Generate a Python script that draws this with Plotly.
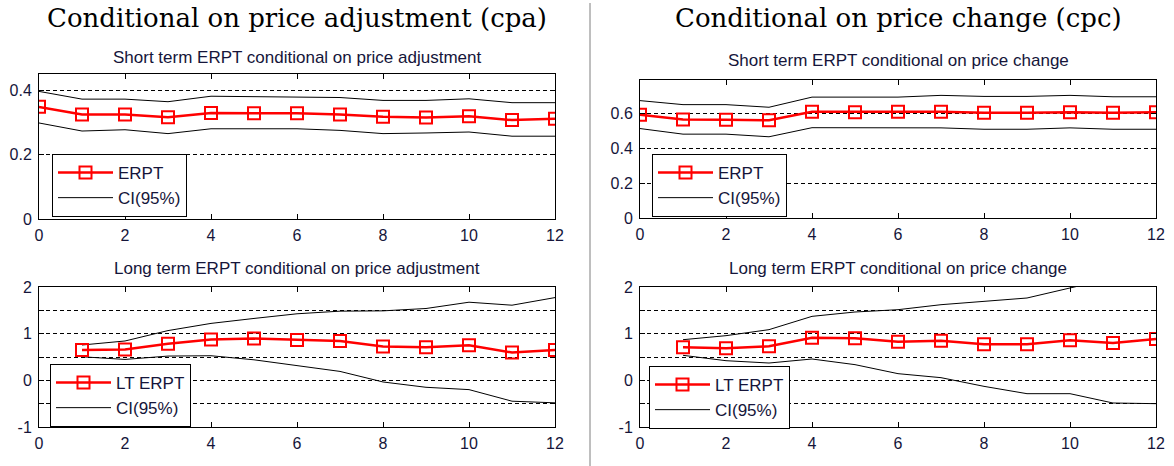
import plotly.graph_objects as go

W, H = 1174, 466

# ---------------- data ----------------
x_st = [0, 1, 2, 3, 4, 5, 6, 7, 8, 9, 10, 11, 12]
x_lt = [1, 2, 3, 4, 5, 6, 7, 8, 9, 10, 11, 12]

# Short term, conditional on price adjustment (cpa)
st_cpa_erpt = [0.348, 0.324, 0.324, 0.316, 0.329, 0.328, 0.328, 0.324, 0.317, 0.315, 0.319, 0.307, 0.311]
st_cpa_hi = [0.396, 0.372, 0.372, 0.364, 0.381, 0.380, 0.378, 0.377, 0.368, 0.368, 0.373, 0.361, 0.361]
st_cpa_lo = [0.298, 0.273, 0.277, 0.265, 0.280, 0.280, 0.280, 0.275, 0.265, 0.267, 0.270, 0.257, 0.257]

# Short term, conditional on price change (cpc)
st_cpc_erpt = [0.591, 0.564, 0.563, 0.559, 0.608, 0.606, 0.608, 0.608, 0.602, 0.602, 0.606, 0.602, 0.606]
st_cpc_hi = [0.672, 0.649, 0.649, 0.634, 0.692, 0.692, 0.692, 0.702, 0.696, 0.696, 0.702, 0.694, 0.694]
st_cpc_lo = [0.512, 0.480, 0.480, 0.465, 0.517, 0.517, 0.517, 0.516, 0.508, 0.508, 0.516, 0.508, 0.508]

# Long term, conditional on price adjustment (cpa)
lt_cpa_erpt = [0.648, 0.660, 0.782, 0.875, 0.894, 0.865, 0.844, 0.723, 0.709, 0.752, 0.596, 0.652]
lt_cpa_hi = [0.757, 0.843, 1.066, 1.220, 1.326, 1.426, 1.482, 1.489, 1.539, 1.674, 1.610, 1.773]
lt_cpa_lo = [0.505, 0.448, 0.520, 0.527, 0.440, 0.312, 0.191, -0.035, -0.149, -0.199, -0.447, -0.482]

# Long term, conditional on price change (cpc)
lt_cpc_erpt = [0.707, 0.686, 0.729, 0.914, 0.900, 0.829, 0.850, 0.771, 0.771, 0.857, 0.800, 0.886]
lt_cpc_hi = [0.871, 0.957, 1.086, 1.371, 1.464, 1.514, 1.621, 1.686, 1.764, 1.979, 2.200, 2.400]
lt_cpc_lo = [0.536, 0.421, 0.371, 0.457, 0.336, 0.143, 0.057, -0.129, -0.286, -0.286, -0.486, -0.500]

x_ticks = [0, 2, 4, 6, 8, 10, 12]
st_cpa_yticks = [0, 0.2, 0.4]
st_cpc_yticks = [0, 0.2, 0.4, 0.6]
lt_yticks = [-1, -0.5, 0, 0.5, 1, 1.5, 2]
lt_yticktext = ["-1", "", "0", "", "1", "", "2"]

main_titles = ["Conditional on price adjustment (cpa)", "Conditional on price change (cpc)"]
sub_titles = [
    "Short term ERPT conditional on price adjustment",
    "Short term ERPT conditional on price change",
    "Long term ERPT conditional on price adjustment",
    "Long term ERPT conditional on price change",
]

# ---------------- layout helpers ----------------
def fx(px):
    return px / W

def fy(py):
    return 1 - py / H

TXT = "#15153a"
FONT = "Liberation Sans"

panels = [
    # (axis suffix, legend id, x, erpt, hi, lo, name, px-left, px-right, px-top, px-bottom)
    ("", "legend", x_st, st_cpa_erpt, st_cpa_hi, st_cpa_lo, "ERPT", 39, 555, 74, 219),
    ("2", "legend2", x_st, st_cpc_erpt, st_cpc_hi, st_cpc_lo, "ERPT", 640, 1156, 80, 218),
    ("3", "legend3", x_lt, lt_cpa_erpt, lt_cpa_hi, lt_cpa_lo, "LT ERPT", 39, 555, 287, 427),
    ("4", "legend4", x_lt, lt_cpc_erpt, lt_cpc_hi, lt_cpc_lo, "LT ERPT", 640, 1156, 287, 427),
]

fig = go.Figure()

for k, (ax, lg, xs, erpt, hi, lo, nm, l, r, t, b) in enumerate(panels):
    xa = "x" + ax
    ya = "y" + ax
    fig.add_trace(go.Scatter(
        x=xs, y=hi, xaxis=xa, yaxis=ya, mode="lines", name="CI(95%)",
        line=dict(color="black", width=1), legend=lg, legendrank=2,
        legendgroup="ci%d" % k,
    ))
    fig.add_trace(go.Scatter(
        x=xs, y=lo, xaxis=xa, yaxis=ya, mode="lines", name="CI(95%)",
        line=dict(color="black", width=1), legend=lg, showlegend=False,
        legendgroup="ci%d" % k,
    ))
    fig.add_trace(go.Scatter(
        x=xs, y=erpt, xaxis=xa, yaxis=ya, mode="lines+markers", name=nm,
        line=dict(color="#ff0000", width=2.5),
        marker=dict(symbol="square-open", size=12, color="#ff0000", line=dict(width=2, color="#ff0000")),
        legend=lg, legendrank=1, legendgroup="e%d" % k,
    ))

axis_common = dict(
    showline=True, linecolor="black", linewidth=1, mirror="allticks",
    ticks="inside", ticklen=5, tickcolor="black", zeroline=False,
    tickfont=dict(family=FONT, size=16, color=TXT), automargin=False,
)

yranges = [[0, 0.45], [0, 0.79], [-1, 2], [-1, 2]]
yticks = [(st_cpa_yticks, None), (st_cpc_yticks, None), (lt_yticks, lt_yticktext), (lt_yticks, lt_yticktext)]

layout = dict(
    template="none",
    width=W, height=H, margin=dict(l=0, r=0, t=0, b=0, pad=0, autoexpand=False),
    paper_bgcolor="white", plot_bgcolor="white", showlegend=True,
    font=dict(family=FONT, color=TXT),
    hovermode=False,
)

for i, (ax, lg, xs, erpt, hi, lo, nm, l, r, t, b) in enumerate(panels):
    xkey = "xaxis" + ax
    ykey = "yaxis" + ax
    layout[xkey] = dict(
        axis_common, domain=[fx(l), fx(r)], range=[0, 12], tickvals=x_ticks,
        showgrid=False, anchor="y" + ax, ticklabelstandoff=2,
    )
    tv, tt = yticks[i]
    ydict = dict(
        axis_common, domain=[fy(b), fy(t)], range=yranges[i], tickvals=tv,
        showgrid=True, gridcolor="black", gridwidth=1, griddash="4px,3px",
        anchor="x" + ax, ticklabelstandoff=3,
    )
    if tt is not None:
        ydict["ticktext"] = tt
    layout[ykey] = ydict

legend_pos = [(52, 154), (652, 154), (50, 364), (649, 366)]
for (ax, lg, *_), (lx, ly) in zip(panels, legend_pos):
    layout[lg] = dict(
        x=fx(lx), y=fy(ly), xanchor="left", yanchor="top",
        bgcolor="white", bordercolor="black", borderwidth=1,
        font=dict(family=FONT, size=17, color=TXT), itemwidth=55,
        traceorder="grouped", tracegroupgap=0,
    )

fig.update_layout(**layout)

# titles
annotations = []
main_pos = [(297, 18), (898, 18)]
for txt, (px, py) in zip(main_titles, main_pos):
    annotations.append(dict(
        text=txt, x=fx(px), y=fy(py), xref="paper", yref="paper",
        xanchor="center", yanchor="middle", showarrow=False,
        font=dict(family="DejaVu Serif", size=26, color="black"),
    ))
sub_pos = [(297, 57), (898, 61), (297, 268), (898, 268)]
for txt, (px, py) in zip(sub_titles, sub_pos):
    annotations.append(dict(
        text=txt, x=fx(px), y=fy(py), xref="paper", yref="paper",
        xanchor="center", yanchor="middle", showarrow=False,
        font=dict(family=FONT, size=17, color=TXT),
    ))
fig.update_layout(annotations=annotations)

# vertical divider between the two columns
fig.add_shape(type="line", xref="paper", yref="paper", x0=fx(590), x1=fx(590), y0=0, y1=fy(3),
              line=dict(color="#7f7f7f", width=1))

fig.write_html("out.html", config={"displayModeBar": False},
               post_script="document.body.style.margin='0';")
